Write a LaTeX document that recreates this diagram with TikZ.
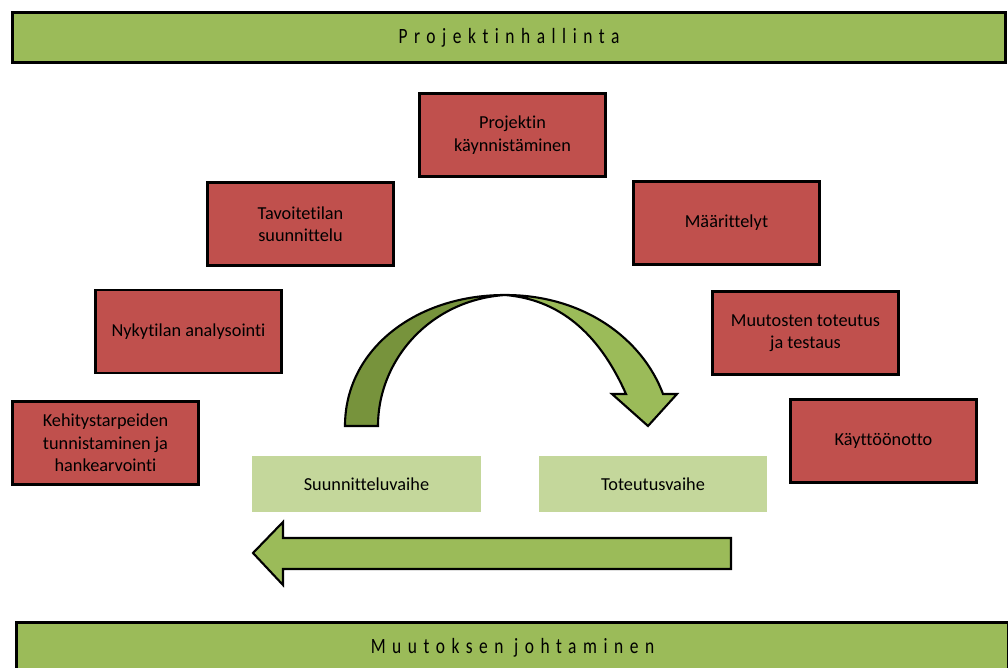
\documentclass[tikz,border=0pt]{standalone}
\usepackage{fontspec}
\setmainfont[Ligatures=CommonOff]{Carlito}
\newfontfamily\barfont[LetterSpace=30,FakeStretch=0.8,Ligatures=CommonOff]{Carlito}
\definecolor{barGreen}{HTML}{9BBB59}
\definecolor{phaseGreen}{HTML}{C4D79B}
\definecolor{darkGreen}{HTML}{77933C}
\definecolor{taskRed}{HTML}{C0504D}
\begin{document}
\begin{tikzpicture}[x=0.025cm,y=-0.025cm,
    bar/.style={draw=black,line width=2pt,fill=barGreen,minimum width=24.8cm,minimum height=1.25cm,
        font=\barfont\fontsize{15.5}{17}\selectfont},
    task/.style={draw=black,line width=1.8pt,fill=taskRed,minimum width=4.65cm,minimum height=2.08cm,
        align=center,font=\fontsize{13}{16}\selectfont},
    phase/.style={fill=phaseGreen,minimum height=1.4cm,font=\fontsize{13}{16}\selectfont},
    shape arrow/.style={draw=black,line width=1.5pt,line join=miter}]
    \useasboundingbox (0,0) rectangle (1008,668);

    % top and bottom bars
    \node[bar] (hallinta) at (509,37.5) {Projektinhallinta};
    \node[bar] (johtaminen) at (512.5,647.5) {Muutoksen johtaminen};

    % tasks
    \node[task] (kaynnistys) at (512.5,135) {Projektin\\käynnistäminen};
    \node[task] (tavoitetila) at (300.5,224) {Tavoitetilan\\suunnittelu};
    \node[task] (maarittely) at (726.5,223) {Määrittelyt};
    \node[task] (nykytila) at (188.5,331.5) {Nykytilan analysointi};
    \node[task] (toteutus) at (805.5,333) {Muutosten toteutus\\ja testaus};
    \node[task] (tarpeet) at (105.5,443) {Kehitystarpeiden\\tunnistaminen ja\\hankearvointi};
    \node[task] (kaytto) at (883.5,441) {Käyttöönotto};

    % phases
    \node[phase,minimum width=5.72cm] (suunnittelu) at (366.5,484) {Suunnitteluvaihe};
    \node[phase,minimum width=5.7cm] (toteutusvaihe) at (653,484) {Toteutusvaihe};

    % curved arrow
    \draw[shape arrow,fill=darkGreen]
        (345,426) .. controls (345,350) and (415,295) .. (505,295)
        .. controls (430,300) and (378,360) .. (378,426) -- cycle;
    \draw[shape arrow,fill=barGreen]
        (505,295) .. controls (585,295) and (643,340) .. (663,394)
        -- (677,394) -- (648,426) -- (612,394) -- (626,394)
        .. controls (602,340) and (565,300) .. (505,295) -- cycle;

    % back arrow
    \draw[shape arrow,fill=barGreen]
        (731,538) -- (283,538) -- (283,522) -- (253,553) -- (283,585)
        -- (283,569) -- (731,569) -- cycle;
\end{tikzpicture}
\end{document}
